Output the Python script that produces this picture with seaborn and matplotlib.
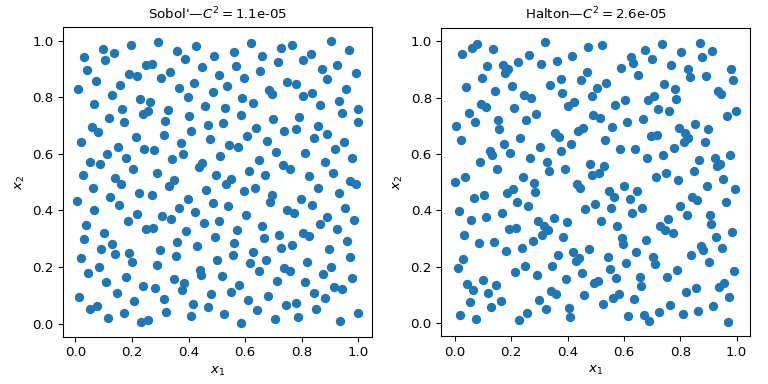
import matplotlib
matplotlib.use("Agg")
import matplotlib.pyplot as plt
import seaborn as sns
import pandas as pd

titles = ["Sobol'", "Halton"]
discrepancies = ["1.1e-05", "2.6e-05"]
tick_values = [0.0, 0.2, 0.4, 0.6, 0.8, 1.0]

sobol_x1 = [
    0.292, 0.195, 0.097, 0.136, 0.358, 0.427, 0.030, 0.105, 0.388, 0.249,
    0.271, 0.448, 0.041, 0.189, 0.217, 0.335, 0.303, 0.073, 0.157, 0.420,
    0.009, 0.365, 0.129, 0.398, 0.228, 0.264, 0.065, 0.457, 0.164, 0.327,
    0.256, 0.239, 0.117, 0.402, 0.171, 0.316, 0.469, 0.058, 0.080, 0.409,
    0.313, 0.214, 0.476, 0.018, 0.374, 0.150, 0.242, 0.278, 0.111, 0.381,
    0.180, 0.342, 0.051, 0.086, 0.446, 0.436, 0.203, 0.288, 0.026,
    0.622, 0.902, 0.767, 0.725, 0.966, 0.561, 0.491, 0.661, 0.831, 0.806,
    0.717, 0.569, 0.923, 0.870, 0.654, 0.991, 0.508, 0.597, 0.891, 0.748,
    0.778, 0.537, 0.955, 0.686, 0.696, 0.485, 0.838, 0.803, 0.590, 0.930,
    0.629, 0.863, 0.530, 0.998, 0.941, 0.586, 0.792, 0.700, 0.998, 0.522,
    0.856, 0.639, 0.781, 0.739, 0.888, 0.608, 0.845, 0.678, 0.948, 0.544,
    0.576, 0.916, 0.710, 0.813, 0.512, 0.976, 0.650, 0.881, 0.732, 0.760,
    0.615, 0.909, 0.496, 0.671, 0.824,
    0.139, 0.160, 0.348, 0.331, 0.061, 0.462, 0.225, 0.271, 0.122, 0.006,
    0.398, 0.154, 0.366, 0.065, 0.423, 0.217, 0.306, 0.339, 0.186, 0.455,
    0.037, 0.249, 0.275, 0.391, 0.100, 0.030, 0.359, 0.129, 0.430, 0.090,
    0.299, 0.191, 0.139, 0.356, 0.019, 0.200, 0.288, 0.083, 0.441, 0.444,
    0.044, 0.178, 0.349, 0.108, 0.384, 0.377, 0.239, 0.281, 0.147, 0.480,
    0.012, 0.313, 0.207, 0.416, 0.051, 0.076, 0.469, 0.320, 0.171, 0.409,
    0.115, 0.232, 0.256,
    0.551, 0.534, 0.969, 0.991, 0.636, 0.597, 0.859, 0.930, 0.696, 0.689,
    0.796, 0.487, 0.540, 0.835, 0.749, 0.771, 0.952, 0.604, 0.891, 0.983,
    0.508, 0.866, 0.661, 0.572, 0.923, 0.803, 0.827, 0.721, 0.494, 0.668,
    0.959, 0.561, 0.764, 0.728, 0.898, 0.629, 0.558, 0.969, 0.501, 0.675,
    0.817, 0.618, 0.739, 0.757, 0.905, 0.650, 0.874, 0.519, 0.976, 0.714,
    0.813, 0.579, 0.913, 0.944, 0.551, 0.842, 0.682, 0.881, 0.611, 0.746,
    0.781, 0.849, 0.643, 0.526, 0.999, 0.788, 0.707, 0.934, 0.586,
]
sobol_x2 = [
    0.995, 0.985, 0.970, 0.956, 0.963, 0.981, 0.942, 0.931, 0.935, 0.915,
    0.918, 0.907, 0.896, 0.883, 0.875, 0.890, 0.868, 0.857, 0.844, 0.850,
    0.829, 0.832, 0.809, 0.800, 0.793, 0.784, 0.777, 0.768, 0.759, 0.755,
    0.752, 0.740, 0.726, 0.733, 0.712, 0.716, 0.701, 0.694, 0.676, 0.680,
    0.665, 0.658, 0.651, 0.641, 0.637, 0.626, 0.617, 0.613, 0.600, 0.598,
    0.587, 0.582, 0.573, 0.563, 0.567, 0.554, 0.545, 0.534, 0.527,
    0.992, 0.999, 0.985, 0.974, 0.967, 0.960, 0.946, 0.946, 0.953, 0.931,
    0.924, 0.910, 0.914, 0.900, 0.892, 0.885, 0.878, 0.868, 0.864, 0.853,
    0.846, 0.839, 0.829, 0.825, 0.811, 0.819, 0.814, 0.804, 0.797, 0.786,
    0.779, 0.772, 0.761, 0.758, 0.743, 0.736, 0.729, 0.722, 0.712, 0.708,
    0.697, 0.690, 0.687, 0.680, 0.669, 0.662, 0.655, 0.644, 0.641, 0.630,
    0.623, 0.616, 0.605, 0.602, 0.591, 0.584, 0.577, 0.570, 0.559, 0.548,
    0.541, 0.531, 0.524, 0.524, 0.520,
    0.515, 0.493, 0.506, 0.488, 0.478, 0.474, 0.463, 0.456, 0.449, 0.435,
    0.439, 0.421, 0.410, 0.403, 0.396, 0.389, 0.382, 0.371, 0.364, 0.357,
    0.350, 0.336, 0.339, 0.326, 0.322, 0.300, 0.290, 0.283, 0.275, 0.265,
    0.261, 0.251, 0.247, 0.240, 0.233, 0.219, 0.208, 0.201, 0.190, 0.173,
    0.180, 0.165, 0.158, 0.148, 0.144, 0.119, 0.134, 0.126, 0.109, 0.105,
    0.095, 0.087, 0.080, 0.070, 0.052, 0.063, 0.059, 0.041, 0.038, 0.027,
    0.020, 0.006, 0.013,
    0.512, 0.495, 0.504, 0.492, 0.481, 0.467, 0.478, 0.460, 0.453, 0.431,
    0.442, 0.428, 0.417, 0.421, 0.400, 0.392, 0.407, 0.385, 0.378, 0.368,
    0.361, 0.353, 0.346, 0.332, 0.336, 0.322, 0.311, 0.314, 0.307, 0.304,
    0.293, 0.286, 0.279, 0.268, 0.265, 0.254, 0.243, 0.236, 0.226, 0.226,
    0.219, 0.215, 0.197, 0.187, 0.201, 0.187, 0.176, 0.169, 0.162, 0.151,
    0.148, 0.137, 0.130, 0.123, 0.112, 0.109, 0.098, 0.091, 0.084, 0.066,
    0.073, 0.052, 0.048, 0.034, 0.038, 0.024, 0.017, 0.009, 0.002,
]

halton_x1 = [
    0.320, 0.473, 0.079, 0.061, 0.136, 0.026, 0.262, 0.416, 0.362, 0.225,
    0.306, 0.115, 0.171, 0.189, 0.178, 0.469, 0.097, 0.375, 0.448, 0.338,
    0.203, 0.041, 0.143, 0.246, 0.271, 0.381, 0.423, 0.402, 0.092, 0.109,
    0.210, 0.051, 0.288, 0.253, 0.154, 0.073, 0.005, 0.455, 0.437, 0.157,
    0.356, 0.370, 0.232, 0.022, 0.175, 0.413, 0.303, 0.125, 0.132, 0.377,
    0.196, 0.267, 0.090, 0.327, 0.335, 0.478, 0.150, 0.391, 0.037, 0.243,
    0.522, 0.735, 0.870, 0.675, 0.803, 0.913, 0.625, 0.632, 0.700, 0.877,
    0.767, 0.590, 0.827, 0.835, 0.980, 0.650, 0.891, 0.987, 0.537, 0.742,
    0.505, 0.781, 0.934, 0.944, 0.485, 0.707, 0.686, 0.785, 0.604, 0.569,
    0.721, 0.760, 0.999, 0.966, 0.489, 0.515, 0.668, 0.611, 0.852, 0.558,
    0.796, 0.898, 0.817, 0.827, 0.813, 0.696, 0.717, 0.533, 0.888, 0.778,
    0.639, 0.586, 0.739, 0.976, 0.682, 0.866, 0.923, 0.941, 0.930, 0.530,
    0.849, 0.749, 0.487, 0.512, 0.714,
    0.001, 0.281, 0.285, 0.434, 0.444, 0.208, 0.186, 0.104, 0.069, 0.221,
    0.259, 0.462, 0.015, 0.168, 0.111, 0.351, 0.058, 0.296, 0.398, 0.317,
    0.331, 0.310, 0.193, 0.217, 0.033, 0.384, 0.278, 0.086, 0.139, 0.239,
    0.476, 0.182, 0.420, 0.366, 0.441, 0.430, 0.030, 0.345, 0.249, 0.012,
    0.214, 0.452, 0.292, 0.395, 0.100, 0.044, 0.065, 0.147, 0.342, 0.359,
    0.118, 0.459, 0.299, 0.164, 0.054, 0.129, 0.324, 0.405, 0.409, 0.019,
    0.256, 0.076, 0.228,
    0.792, 0.952, 0.895, 0.600, 0.994, 0.547, 0.565, 0.647, 0.622, 0.842,
    0.859, 0.962, 0.496, 0.798, 0.554, 0.664, 0.629, 0.824, 0.905, 0.909,
    0.757, 0.519, 0.576, 0.728, 0.746, 0.774, 0.983, 0.593, 0.597, 0.927,
    0.678, 0.874, 0.881, 0.948, 0.643, 0.838, 0.544, 0.703, 0.710, 0.608,
    0.902, 0.551, 0.788, 0.991, 0.753, 0.657, 0.661, 0.572, 0.494, 0.508,
    0.955, 0.937, 0.856, 0.820, 0.583, 0.561, 0.973, 0.636, 0.526, 0.764,
    0.916, 0.725, 0.863, 0.810, 0.615, 0.671, 0.689, 0.969,
]
halton_x2 = [
    0.999, 0.981, 0.992, 0.978, 0.974, 0.956, 0.953, 0.949, 0.931, 0.928,
    0.921, 0.914, 0.917, 0.900, 0.889, 0.892, 0.871, 0.868, 0.864, 0.846,
    0.843, 0.839, 0.822, 0.811, 0.800, 0.818, 0.786, 0.772, 0.779, 0.768,
    0.765, 0.747, 0.743, 0.722, 0.719, 0.715, 0.701, 0.694, 0.683, 0.687,
    0.676, 0.662, 0.658, 0.651, 0.637, 0.634, 0.626, 0.612, 0.595, 0.612,
    0.602, 0.584, 0.573, 0.570, 0.541, 0.566, 0.548, 0.545, 0.520, 0.519,
    0.988, 0.992, 0.995, 0.970, 0.963, 0.967, 0.946, 0.924, 0.939, 0.946,
    0.917, 0.907, 0.903, 0.875, 0.900, 0.882, 0.878, 0.861, 0.853, 0.850,
    0.836, 0.829, 0.825, 0.814, 0.805, 0.807, 0.793, 0.797, 0.790, 0.775,
    0.761, 0.751, 0.754, 0.736, 0.740, 0.729, 0.726, 0.712, 0.708, 0.697,
    0.694, 0.690, 0.676, 0.658, 0.644, 0.665, 0.669, 0.648, 0.641, 0.623,
    0.619, 0.616, 0.598, 0.595, 0.587, 0.580, 0.584, 0.563, 0.556, 0.559,
    0.538, 0.534, 0.525, 0.531, 0.517,
    0.499, 0.496, 0.466, 0.492, 0.481, 0.474, 0.460, 0.456, 0.442, 0.428,
    0.417, 0.403, 0.396, 0.392, 0.378, 0.371, 0.364, 0.361, 0.357, 0.343,
    0.329, 0.311, 0.332, 0.336, 0.314, 0.307, 0.290, 0.283, 0.286, 0.265,
    0.261, 0.254, 0.251, 0.243, 0.229, 0.219, 0.226, 0.204, 0.201, 0.194,
    0.180, 0.176, 0.169, 0.155, 0.151, 0.137, 0.116, 0.134, 0.112, 0.102,
    0.105, 0.098, 0.080, 0.077, 0.073, 0.056, 0.048, 0.052, 0.020, 0.027,
    0.034, 0.013, 0.009,
    0.507, 0.511, 0.488, 0.485, 0.474, 0.470, 0.449, 0.467, 0.439, 0.446,
    0.435, 0.431, 0.421, 0.414, 0.407, 0.410, 0.389, 0.382, 0.385, 0.353,
    0.368, 0.361, 0.346, 0.343, 0.329, 0.318, 0.322, 0.300, 0.279, 0.304,
    0.293, 0.275, 0.258, 0.268, 0.251, 0.240, 0.233, 0.236, 0.208, 0.212,
    0.215, 0.190, 0.187, 0.183, 0.165, 0.162, 0.130, 0.158, 0.141, 0.148,
    0.141, 0.126, 0.123, 0.109, 0.102, 0.087, 0.091, 0.084, 0.066, 0.063,
    0.059, 0.038, 0.041, 0.031, 0.024, 0.027, 0.006, 0.002,
]

series = [(sobol_x1, sobol_x2), (halton_x1, halton_x2)]

fig, axes = plt.subplots(1, 2, figsize=(8, 4), dpi=96)
fig.subplots_adjust(left=0.082, right=0.977, bottom=0.122, top=0.930, wspace=0.223)

for ax, name, disc, (xs, ys) in zip(axes, titles, discrepancies, series):
    df = pd.DataFrame({"x1": xs, "x2": ys})
    sns.scatterplot(data=df, x="x1", y="x2", ax=ax, color="#1f77b4",
                    s=49, linewidth=0, alpha=1.0)
    ax.set_aspect("equal")
    ax.set_xticks(tick_values)
    ax.set_yticks(tick_values)
    ax.set_xlabel("$x_1$")
    ax.set_ylabel("$x_2$")
    ax.set_title(f"{name}—$C^2 = ${disc}", fontsize=10)

fig.savefig("out.png", dpi=96)
